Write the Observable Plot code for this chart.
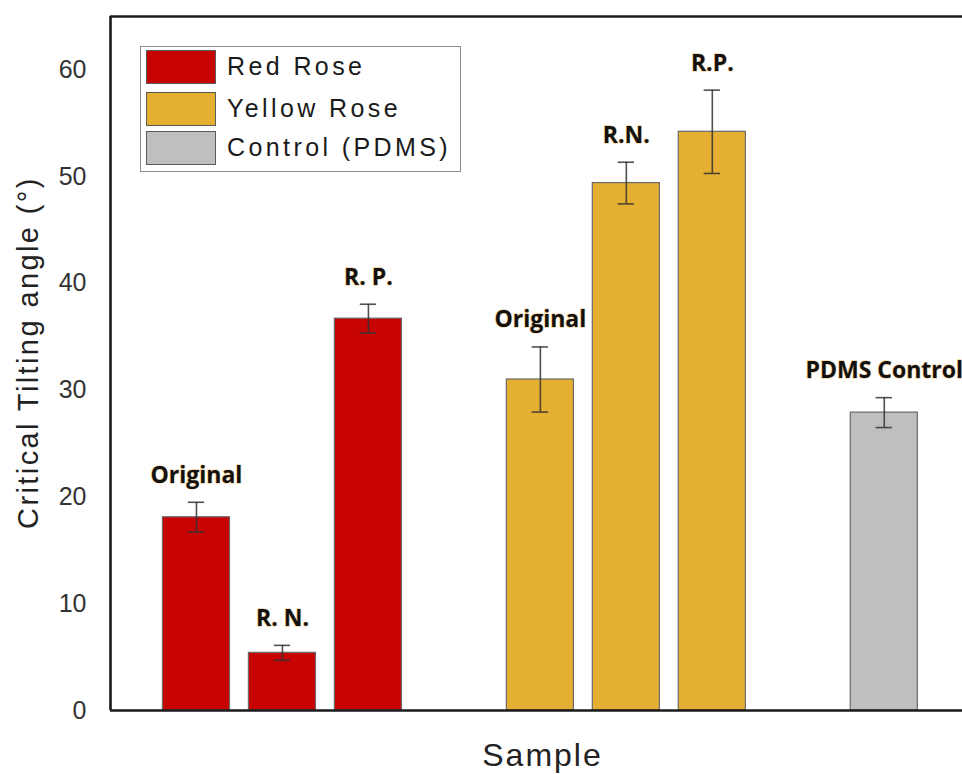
<!DOCTYPE html>
<html>
<head>
<meta charset="utf-8">
<script src="https://cdn.jsdelivr.net/npm/d3@7"></script>
<script src="https://cdn.jsdelivr.net/npm/@observablehq/plot@0.6"></script>
<style>
  body { margin: 0; background: #fff; }
  #chart { position: relative; width: 962px; height: 774px; font-family: "Liberation Sans", Arial, sans-serif; }
  #chart svg { display: block; }
  .legend { position: absolute; left: 140px; top: 46px; width: 319px; height: 124px;
            border: 1px solid #8c8c8c; background: #fff; box-sizing: content-box; }
  .legend-row { position: absolute; left: 5px; height: 35px; display: flex; align-items: center; }
  .legend-swatch { width: 70px; height: 34px; border: 1px solid #5a5a5a; box-sizing: border-box; }
  .legend-text { margin-left: 11px; font-size: 25px; letter-spacing: 3.4px; color: #1a1a1a; white-space: nowrap; }
</style>
</head>
<body>
<div id="chart"></div>
<script>
// Sample groups and their fill colours
const groups = ["Red Rose", "Yellow Rose", "Control (PDMS)"];
const groupColors = ["#c80303", "#e5b031", "#bfbfbf"];

// One entry per bar
const sampleGroup = ["Red Rose", "Red Rose", "Red Rose", "Yellow Rose", "Yellow Rose", "Yellow Rose", "Control (PDMS)"];
const sampleLabels = ["Original", "R. N.", "R. P.", "Original", "R.N.", "R.P.", "PDMS Control"];
const angleMean = [18.1, 5.4, 36.7, 31.0, 49.4, 54.2, 27.9];
const angleErr = [1.4, 0.7, 1.35, 3.05, 1.95, 3.9, 1.4];

// Y axis ticks
const yTicks = [0, 10, 20, 30, 40, 50, 60];

// Bars sit in slots: each group takes three slots plus an empty one between groups
const seen = {};
const rows = sampleGroup.map((g, i) => {
  const k = seen[g] = (seen[g] ?? -1) + 1;
  return {
    group: g,
    label: sampleLabels[i],
    mean: angleMean[i],
    err: angleErr[i],
    pos: groups.indexOf(g) * 4 + k
  };
});

const half = 0.39;   // half bar width, in slots
const cap = 0.095;   // half error-cap width, in slots

const chart = Plot.plot({
  width: 962,
  height: 774,
  marginLeft: 110,
  marginRight: 0,
  marginTop: 16,
  marginBottom: 64,
  style: { fontFamily: "'Liberation Sans', Arial, sans-serif", background: "#fff", overflow: "visible" },
  x: { domain: [-1, 8.91], axis: null },
  y: { domain: [0, 65], axis: null },
  color: { domain: groups, range: groupColors },
  marks: [
    Plot.axisY({ ticks: yTicks, tickSize: 0, tickPadding: 24, fontSize: 25, fill: "#333", label: null }),
    Plot.rect(rows, {
      x1: d => d.pos - half, x2: d => d.pos + half,
      y1: () => 0, y2: "mean",
      fill: "group", stroke: "#6a6a6a", strokeWidth: 1.2
    }),
    Plot.ruleX(rows, { x: "pos", y1: d => d.mean - d.err, y2: d => d.mean + d.err, stroke: "#333", strokeOpacity: 0.85, strokeWidth: 1.6 }),
    Plot.ruleY(rows, { y: d => d.mean + d.err, x1: d => d.pos - cap, x2: d => d.pos + cap, stroke: "#333", strokeOpacity: 0.85, strokeWidth: 1.6 }),
    Plot.ruleY(rows, { y: d => d.mean - d.err, x1: d => d.pos - cap, x2: d => d.pos + cap, stroke: "#333", strokeOpacity: 0.85, strokeWidth: 1.6 }),
    Plot.text(rows, {
      x: "pos", y: d => d.mean + d.err, text: "label", dy: -27,
      fontFamily: "'Open Sans', sans-serif", fontWeight: 700, fontSize: 23,
      fill: "#111", stroke: "#e9a53a", strokeWidth: 1.4, strokeOpacity: 0.5
    }),
    // plot frame: bottom, top and left lines
    Plot.ruleY([0, 65], { stroke: "#1a1a1a", strokeWidth: 2.6 }),
    Plot.ruleX([-1], { stroke: "#1a1a1a", strokeWidth: 2.6 }),
    // axis titles
    Plot.text(["Critical Tilting angle (°)"], { frameAnchor: "left", textAnchor: "middle", dx: -82, dy: -11, rotate: -90, fontSize: 29, fill: "#222" }),
    Plot.text(["Sample"], { frameAnchor: "bottom", dx: 6, dy: 55, fontSize: 32, fill: "#222" })
  ]
});

// widen the letter spacing of the axis titles
d3.select(chart).selectAll("text").each(function () {
  const t = this.textContent;
  if (t === "Critical Tilting angle (°)") d3.select(this).style("letter-spacing", "2.4px");
  if (t === "Sample") d3.select(this).style("letter-spacing", "2px");
});

const root = document.getElementById("chart");
root.appendChild(chart);

// legend box inside the plot area
const legend = document.createElement("div");
legend.className = "legend";
groups.forEach((g, i) => {
  const row = document.createElement("div");
  row.className = "legend-row";
  row.style.top = [2, 44, 83][i] + "px";
  const sw = document.createElement("div");
  sw.className = "legend-swatch";
  sw.style.background = groupColors[i];
  const tx = document.createElement("span");
  tx.className = "legend-text";
  tx.textContent = g;
  row.appendChild(sw);
  row.appendChild(tx);
  legend.appendChild(row);
});
root.appendChild(legend);
</script>
</body>
</html>
